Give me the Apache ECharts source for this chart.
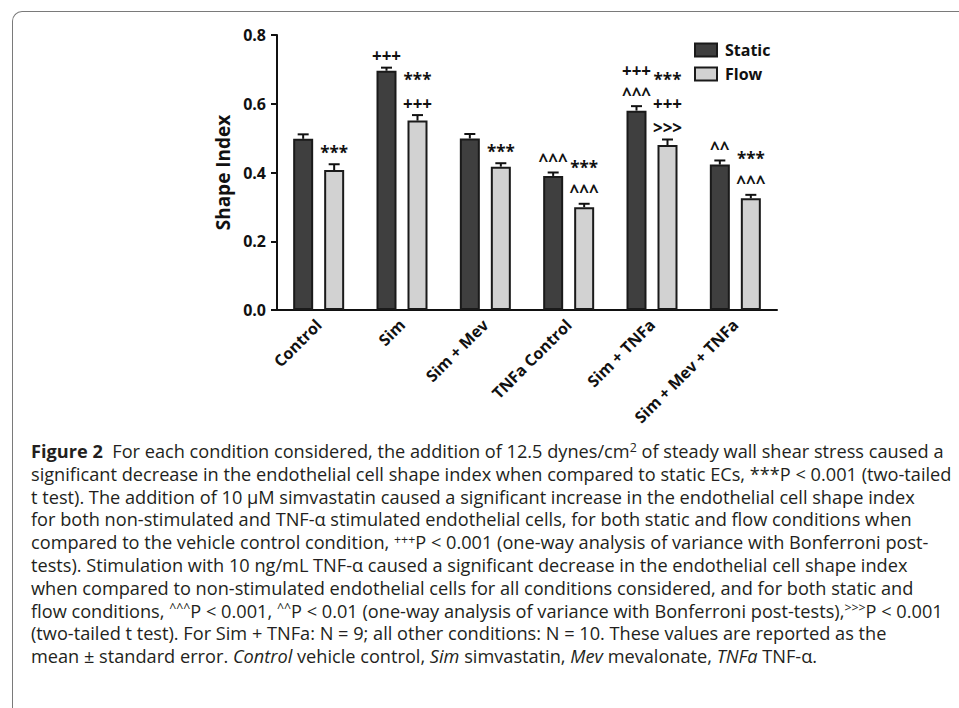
<!DOCTYPE html>
<html>
<head>
<meta charset="utf-8">
<script src="https://cdn.jsdelivr.net/npm/echarts@6.0.0/dist/echarts.min.js"></script>
<style>
  html, body { margin: 0; padding: 0; background: #fff; width: 959px; height: 708px; overflow: hidden; }
  #frame { position: absolute; left: 12px; top: 11px; width: 980px; height: 760px;
           border-left: 1.5px solid #7a7a7a; border-top: 1.5px solid #7a7a7a; border-top-left-radius: 10px; }
  #chart { position: absolute; left: 0; top: 0; width: 959px; height: 708px; }
  #caption { position: absolute; left: 31px; top: 440px; font-family: 'Open Sans', sans-serif; font-size: 16px;
             line-height: 22.8px; color: #231f20; white-space: nowrap; }
  #caption div { height: 22.8px; }
  #caption sup { font-size: 0.68em; position: relative; top: -0.45em; vertical-align: baseline; line-height: 0; }
  #caption b { font-weight: 700; }
</style>
</head>
<body>
<div id="frame"></div>
<div id="chart"></div>
<div id="caption">
  <div id="cap1"><b>Figure 2</b>&nbsp; For each condition considered, the addition of 12.5 dynes/cm<sup>2</sup> of steady wall shear stress caused a</div>
  <div id="cap2">significant decrease in the endothelial cell shape index when compared to static ECs, ***P &lt; 0.001 (two-tailed</div>
  <div>t test). The addition of 10 μM simvastatin caused a significant increase in the endothelial cell shape index</div>
  <div>for both non-stimulated and TNF-α stimulated endothelial cells, for both static and flow conditions when</div>
  <div>compared to the vehicle control condition, <sup>+++</sup>P &lt; 0.001 (one-way analysis of variance with Bonferroni post-</div>
  <div>tests). Stimulation with 10 ng/mL TNF-α caused a significant decrease in the endothelial cell shape index</div>
  <div>when compared to non-stimulated endothelial cells for all conditions considered, and for both static and</div>
  <div>flow conditions, <sup>^^^</sup>P &lt; 0.001, <sup>^^</sup>P &lt; 0.01 (one-way analysis of variance with Bonferroni post-tests),<sup>&gt;&gt;&gt;</sup>P &lt; 0.001</div>
  <div>(two-tailed t test). For Sim + TNFa: N = 9; all other conditions: N = 10. These values are reported as the</div>
  <div>mean ± standard error. <i>Control</i> vehicle control, <i>Sim</i> simvastatin, <i>Mev</i> mevalonate, <i>TNFa</i> TNF-α.</div>
</div>
<script>
// ---- data ----
const categories = ['Control', 'Sim', 'Sim + Mev', 'TNFa Control', 'Sim + TNFa', 'Sim + Mev + TNFa'];
const seriesNames = ['Static', 'Flow'];
const staticMean = [0.498, 0.696, 0.499, 0.390, 0.580, 0.423];
const staticSE   = [0.013, 0.009, 0.013, 0.010, 0.013, 0.012];
const flowMean   = [0.407, 0.551, 0.417, 0.299, 0.480, 0.325];
const flowSE     = [0.017, 0.016, 0.010, 0.010, 0.016, 0.010];
// significance marks, listed from bottom line to top line
const staticMarks = [[], ['+++'], [], ['^^^'], ['^^^', '+++'], ['^^']];
const flowMarks   = [['***'], ['+++', '***'], ['***'], ['^^^', '***'], ['>>>', '+++', '***'], ['^^^', '***']];
const yTickLabels = ['0.0', '0.2', '0.4', '0.6', '0.8'];

// ---- caption font fit ----
(function fitCaption() {
  const cap = document.getElementById('caption');
  const l2 = document.getElementById('cap2');
  const r = document.createRange(); r.selectNodeContents(l2);
  const w = r.getBoundingClientRect().width;
  if (w > 0) cap.style.fontSize = (16 * 921 / w).toFixed(2) + 'px';
})();

// ---- chart ----
const chart = echarts.init(document.getElementById('chart'), null, { renderer: 'svg' });
const FONT = "'Open Sans', 'DejaVu Sans', sans-serif";
const BAR_W = 20, HALF_STEP = 15.5;

function errSeries(name, mean, se, marks, sign) {
  return {
    type: 'custom',
    name: name + ' err',
    z: 5,
    silent: true,
    data: mean.map((m, i) => [i, m, se[i]]),
    renderItem: function (params, api) {
      const i = api.value(0);
      const m = api.value(1);
      const s = api.value(2);
      const x = api.coord([i, 0])[0] + sign * HALF_STEP;
      const yTop = api.coord([i, m])[1];
      const yErr = api.coord([i, m + s])[1];
      const children = [
        { type: 'line', shape: { x1: x, y1: yTop, x2: x, y2: yErr }, style: { stroke: '#111', lineWidth: 2 } },
        { type: 'line', shape: { x1: x - 5.5, y1: yErr, x2: x + 5.5, y2: yErr }, style: { stroke: '#111', lineWidth: 2 } }
      ];
      (marks[i] || []).forEach((t, k) => {
        children.push({
          type: 'text',
          x: x, y: yErr - 12 - 24 * k,
          style: { text: t, fill: '#111', font: 'bold 17px ' + FONT, align: 'center', verticalAlign: 'middle' }
        });
      });
      return { type: 'group', children: children };
    }
  };
}

const option = {
  animation: false,
  backgroundColor: 'transparent',
  textStyle: { fontFamily: FONT },
  grid: { left: 277, right: 182, top: 35, bottom: 398, containLabel: false, outerBoundsMode: 'none' },
  legend: {
    data: seriesNames,
    orient: 'vertical',
    left: 694, top: 42,
    padding: 0,
    itemWidth: 22, itemHeight: 13, itemGap: 8,
    icon: 'rect',
    textStyle: { fontSize: 16, fontWeight: 'bold', color: '#111', fontFamily: FONT, padding: [0, 0, 0, 3] }
  },
  xAxis: {
    type: 'category',
    data: categories,
    axisLine: { lineStyle: { color: '#111', width: 2 } },
    axisTick: { alignWithLabel: true, length: 6, lineStyle: { color: '#111', width: 2 } },
    axisLabel: { rotate: 45, margin: 12, fontSize: 16, fontWeight: 'bold', color: '#111', fontFamily: FONT, interval: 0 }
  },
  yAxis: {
    type: 'value',
    min: 0, max: 0.8, interval: 0.2,
    name: 'Shape Index',
    nameLocation: 'middle',
    nameGap: 45,
    nameTextStyle: { fontSize: 19, fontWeight: 'bold', color: '#111', fontFamily: FONT },
    splitLine: { show: false },
    axisLine: { show: true, lineStyle: { color: '#111', width: 2 } },
    axisTick: { show: true, length: 6, lineStyle: { color: '#111', width: 2 } },
    axisLabel: { margin: 11, fontSize: 16, fontWeight: 'bold', color: '#111', fontFamily: FONT,
                 formatter: v => yTickLabels[Math.round(v / 0.2)] }
  },
  series: [
    { type: 'bar', name: 'Static', data: staticMean, barWidth: BAR_W, barGap: '55%',
      itemStyle: { color: '#3f3f3f', borderColor: '#1a1a1a', borderWidth: 2 } },
    { type: 'bar', name: 'Flow', data: flowMean, barWidth: BAR_W, barGap: '55%',
      itemStyle: { color: '#d2d2d2', borderColor: '#1a1a1a', borderWidth: 2 } },
    errSeries('Static', staticMean, staticSE, staticMarks, -1),
    errSeries('Flow', flowMean, flowSE, flowMarks, 1)
  ]
};
chart.setOption(option);
</script>
</body>
</html>
